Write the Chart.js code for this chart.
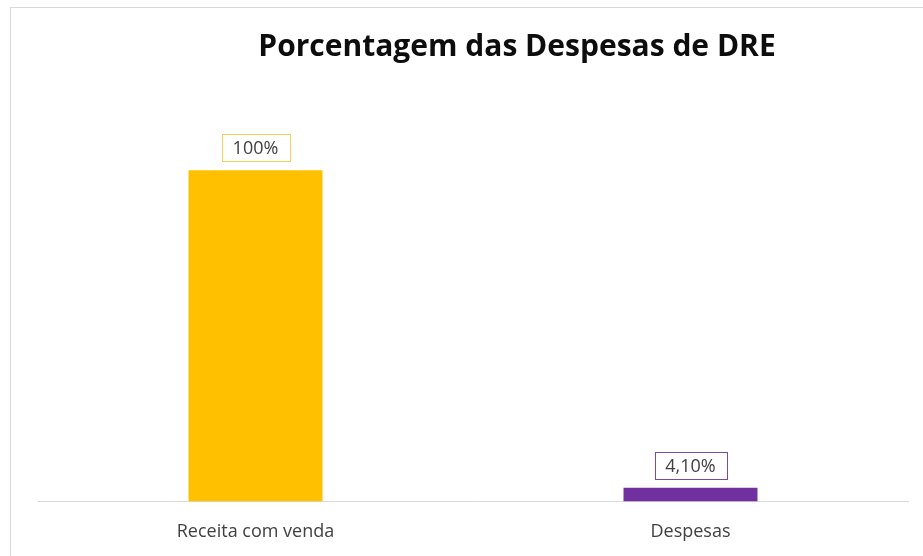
<!DOCTYPE html>
<html>
<head>
<meta charset="utf-8">
<script src="https://cdn.jsdelivr.net/npm/chart.js@4.4.1/dist/chart.umd.min.js"></script>
<style>
  html, body { margin: 0; padding: 0; background: #fff; overflow: hidden; }
  body { width: 923px; height: 556px; position: relative; }
  #frame {
    position: absolute; left: 10px; top: 7px;
    width: 1012px; height: 560px;
    border-left: 1px solid #d9d9d9; border-top: 1px solid #d9d9d9;
  }
  #wrap { position: absolute; left: 0; top: 0; width: 1012px; height: 547px; }
</style>
</head>
<body>
<div id="frame"><div id="wrap"><canvas id="chart"></canvas></div></div>
<script>
const categories = ["Receita com venda", "Despesas"]
const percentValues = [100, 4.1]
const barColors = ["#FFC000", "#7030A0"]
const labelBorderColors = ["#F5CF5A", "#7a4aa0"]

const formatPercent = (v) => Number.isInteger(v) ? v + "%" : v.toFixed(2).replace(".", ",") + "%"

// boxed value labels drawn above each bar
const boxedLabels = {
    id: "boxedLabels",
    afterDatasetsDraw(chart) {
        const ctx = chart.ctx
        const meta = chart.getDatasetMeta(0)
        ctx.save()
        ctx.font = "18px 'Open Sans'"
        ctx.textAlign = "center"
        ctx.textBaseline = "middle"
        meta.data.forEach((bar, i) => {
            const text = formatPercent(percentValues[i])
            const w = Math.round(ctx.measureText(text).width + 22)
            const h = 27
            const left = Math.round(bar.x - w / 2) + 0.5
            const top = Math.round(bar.y - 9 - h) + 0.5
            ctx.fillStyle = "#fff"
            ctx.fillRect(left, top, w, h)
            ctx.strokeStyle = labelBorderColors[i]
            ctx.lineWidth = 1
            ctx.strokeRect(left, top, w, h)
            ctx.fillStyle = "#404040"
            ctx.fillText(text, bar.x, top + h / 2 + 1)
        })
        ctx.restore()
    }
}

// invisible side axes that reserve space, so the title stays centred on the full canvas
const spacerAxis = (position, width) => ({
    position: position,
    display: true,
    grid: { display: false },
    border: { display: false },
    ticks: { display: false },
    afterFit: (scale) => { scale.width = width }
})

const context = document.getElementById("chart").getContext("2d")

new Chart(context, {
    type: "bar",
    data: {
        labels: categories,
        datasets: [{
            data: percentValues,
            backgroundColor: barColors,
            categoryPercentage: 1,
            barPercentage: 0.308
        }]
    },
    options: {
        responsive: true,
        maintainAspectRatio: false,
        animation: false,
        layout: { padding: 0 },
        scales: {
            x: {
                grid: { display: false },
                border: { display: true, color: "#d9d9d9", width: 1 },
                ticks: { color: "#404040", font: { family: "Open Sans", size: 18 }, padding: 12 }
            },
            y: {
                ...spacerAxis("left", 27),
                min: 0,
                max: 120
            },
            yRight: {
                ...spacerAxis("right", 115),
                min: 0,
                max: 120
            }
        },
        plugins: {
            legend: { display: false },
            tooltip: { enabled: false },
            title: {
                display: true,
                text: "Porcentagem das Despesas de DRE",
                color: "#0d0d0d",
                font: { family: "Open Sans", size: 30, weight: "bold", lineHeight: 1.2 },
                padding: { top: 21, bottom: 39 }
            }
        }
    },
    plugins: [boxedLabels]
})
</script>
</body>
</html>
